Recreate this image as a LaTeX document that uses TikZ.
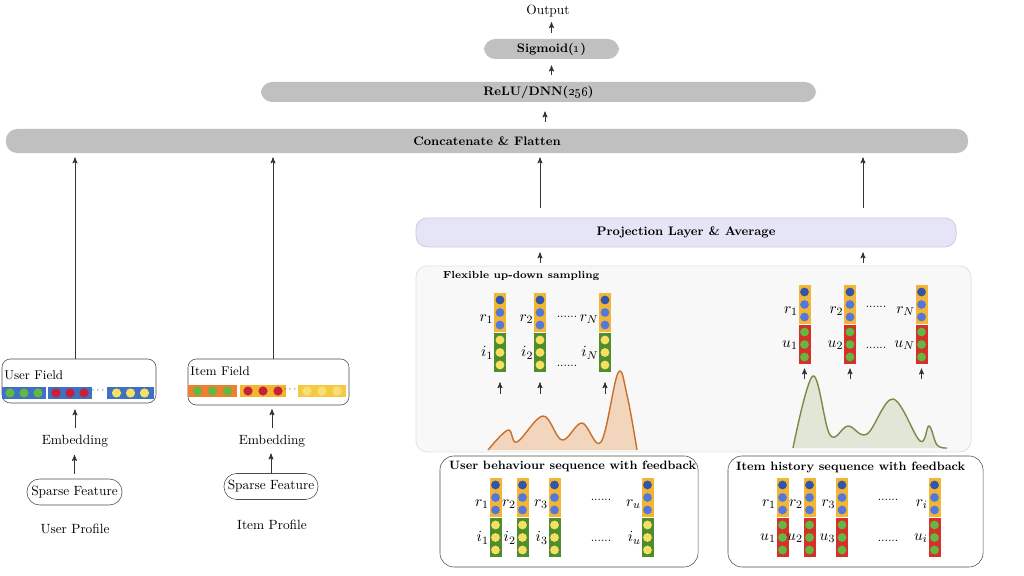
\documentclass[tikz,border=0pt]{standalone}
\usepackage{amsmath}
\usepackage{tikz}
\usetikzlibrary{shapes,arrows,positioning}

\definecolor{boxgray}{HTML}{C0C0C0}
\definecolor{projfill}{HTML}{E6E4F7}
\definecolor{projline}{HTML}{CFCBE6}
\definecolor{panelfill}{HTML}{F8F8F8}
\definecolor{panelline}{HTML}{E2E2E2}
\definecolor{barY}{HTML}{F2B634}
\definecolor{dotB}{HTML}{5478DA}
\definecolor{dotBd}{HTML}{3354A8}
\definecolor{barG}{HTML}{4E8C2C}
\definecolor{dotY}{HTML}{F5E064}
\definecolor{barR}{HTML}{D63028}
\definecolor{dotG}{HTML}{62B842}
\definecolor{barBlue}{HTML}{3F70C2}
\definecolor{dotR}{HTML}{C8203C}
\definecolor{barO}{HTML}{EE8030}
\definecolor{barO2}{HTML}{F3B52A}
\definecolor{barY2}{HTML}{F6C944}
\definecolor{dotY3}{HTML}{F8DE78}
\definecolor{curveOfill}{HTML}{F2D5BD}
\definecolor{curveOline}{HTML}{C8702A}
\definecolor{curveGfill}{HTML}{E2E6D6}
\definecolor{curveGline}{HTML}{7A8A48}

% one embedding column: name, x, top, lower bar, lower dots, top label, lower label
\newcommand{\vcol}[7]{%
  \node[lbl] (#1a) at ({#2-5},{#3+26}) {$#6$};
  \node[lbl] (#1b) at ({#2-5},{#3+60}) {$#7$};
  \node[vbar,fill=barY] (#1r) at (#2,{#3+19.5}) {};
  \node[vbar,fill=#4] (#1i) at (#2,{#3+59.5}) {};
  \fill[dotBd] (#2,{#3+7}) circle (0.11cm);
  \foreach \k in {1,2} \fill[dotB] (#2,{#3+7+12.5*\k}) circle (0.11cm);
  \foreach \k in {0,1,2} \fill[#5] (#2,{#3+47+12.5*\k}) circle (0.11cm);
}
% one field vector: name, x centre, y centre, width, bar, dots, spacing
\newcommand{\hvec}[7]{%
  \node[hbar,fill=#5,minimum width=#4] (#1) at (#2,#3) {};
  \foreach \k in {-1,0,1} \fill[#6] ({#2+#7*\k},#3) circle (0.115cm);
}

\begin{document}
\begin{tikzpicture}[x=0.025cm,y=-0.025cm,>=stealth',semithick,font=\fontsize{9.5}{11}\selectfont]
\tikzstyle{layer}=[fill=boxgray,rounded corners=8pt,inner sep=0pt,font=\fontsize{8.8}{10}\selectfont\bfseries]
\tikzstyle{field}=[draw=black!70,thin,rounded corners=6pt,inner sep=0pt,fill=white]
\tikzstyle{sparse}=[draw=black!70,thin,rounded corners=9pt,inner sep=0pt,minimum height=0.65cm]
\tikzstyle{seqbox}=[draw=black!70,thin,rounded corners=10pt,inner sep=0pt,minimum height=2.775cm]
\tikzstyle{vbar}=[rectangle,inner sep=0pt,minimum width=0.3cm,minimum height=0.975cm]
\tikzstyle{hbar}=[rectangle,inner sep=0pt,minimum height=0.32cm]
\tikzstyle{lbl}=[anchor=east,inner sep=1pt,font=\fontsize{11}{12}\selectfont]
\tikzstyle{ttl}=[anchor=west,font=\fontsize{8.6}{10}\selectfont\bfseries]
\tikzstyle{dots}=[font=\fontsize{8.5}{8}\selectfont,inner sep=0pt]
\tikzstyle{arr}=[->,draw=black!80,line width=0.6pt]

\useasboundingbox (0,0) rectangle (1024,576);

% top layers
\node (out) at (548,11) {Output};
\node[layer,minimum width=3.375cm,minimum height=0.5cm] (sig) at (551.5,49) {Sigmoid(\oldstylenums{1})};
\node[layer,minimum width=13.875cm,minimum height=0.5cm] (relu) at (538.5,92) {ReLU/DNN(\oldstylenums{256})};
\node[layer,minimum width=24.05cm,minimum height=0.6cm] (concat) at (487,141) {Concatenate \& Flatten};
\node[layer,fill=projfill,draw=projline,minimum width=13.5cm,minimum height=0.725cm] (proj) at (686,232.5) {Projection Layer \& Average};

\coordinate (cx) at (545,0);
\coordinate (pl) at (540,0);
\coordinate (pr) at (863,0);
\coordinate (ux) at (75,0);
\coordinate (ix) at (273,0);

\draw[arr,shorten <=4.3pt] (sig.north) -- (sig.north |- out.south);
\draw[arr,shorten <=5pt,shorten >=4.3pt] (relu.north -| sig.south) -- (sig.south);
\draw[arr,shorten <=5pt,shorten >=6.4pt] (concat.north -| cx) -- (relu.south -| cx);

% user profile
\node[field,minimum width=3.85cm,minimum height=1.1cm] (uf) at (79,381) {};
\node[anchor=west,inner sep=1pt,font=\fontsize{9}{10}\selectfont] (uft) at (2.5,375) {User Field};
\hvec{uv1}{24}{393}{1.1cm}{barBlue}{dotG}{14}
\hvec{uv2}{70}{393}{1.1cm}{barBlue}{dotR}{14}
\hvec{uv3}{130.5}{393}{1.175cm}{barBlue}{dotY}{14}
\node[inner sep=0pt,font=\fontsize{6}{6}\selectfont] (ufd) at (99,390) {$\cdots$};
\node (uemb) at (75,441) {Embedding};
\node[sparse,minimum width=2.375cm] (us) at (74.5,492) {Sparse Feature};
\node (uprof) at (75,529) {User Profile};

\draw[arr,shorten <=3.5pt,shorten >=2pt] (us.north) -- (us.north |- uemb.south);
\draw[arr,shorten <=1.4pt,shorten >=4.3pt] (uemb.north) -- (uemb.north |- uf.south);
\draw[arr,shorten >=2.8pt] (uf.north -| ux) -- (concat.south -| ux);

% item profile
\node[field,minimum width=4.025cm,minimum height=1.15cm] (if) at (268.5,382) {};
\node[anchor=west,inner sep=1pt,font=\fontsize{9}{10}\selectfont] (ift) at (188.5,371) {Item Field};
\hvec{iv1}{212.5}{391}{1.225cm}{barO}{dotG}{15}
\hvec{iv2}{263}{391}{1.15cm}{barO2}{dotR}{15}
\hvec{iv3}{322}{391}{1.2cm}{barY2}{dotY3}{15}
\node[inner sep=0pt,font=\fontsize{6}{6}\selectfont] (ifd) at (291,389) {$\cdots$};
\node (iemb) at (272,441) {Embedding};
\node[sparse,minimum width=2.35cm] (is) at (271,486.5) {Sparse Feature};
\node (iprof) at (272,525) {Item Profile};

\draw[arr,shorten <=0pt,shorten >=1pt] (is.north) -- (is.north |- iemb.south);
\draw[arr,shorten <=1pt,shorten >=2.8pt] (iemb.north) -- (iemb.north |- if.south);
\draw[arr,shorten >=2.8pt] (if.north -| ix) -- (concat.south -| ix);

% sampling panel
\node[draw=panelline,fill=panelfill,rounded corners=8pt,minimum width=13.875cm,minimum height=4.65cm] (samp) at (693.5,359) {};
\node[ttl,font=\fontsize{7.3}{9}\selectfont\bfseries] (sampt) at (438,276) {Flexible up-down sampling};

\fill[curveOfill] plot[smooth,tension=0.6] coordinates {(488,450) (508,430) (517,442) (543,416) (562,440) (582,423) (601,442) (618,373) (627,395) (637,450)};
\draw[curveOline,line width=1pt] plot[smooth,tension=0.6] coordinates {(488,450) (508,430) (517,442) (543,416) (562,440) (582,423) (601,442) (618,373) (627,395) (637,450)};
\fill[curveGfill] plot[smooth,tension=0.6] coordinates {(793,448) (813,376) (830,435) (848,426) (867,434) (893,399) (920,441) (929,426) (937,445) (947,448)};
\draw[curveGline,line width=1pt] plot[smooth,tension=0.6] coordinates {(793,448) (813,376) (830,435) (848,426) (867,434) (893,399) (920,441) (929,426) (937,445) (947,448)};

\vcol{sA}{500}{293}{barG}{dotY}{r_1}{i_1}
\vcol{sB}{540}{293}{barG}{dotY}{r_2}{i_2}
\vcol{sC}{605}{293}{barG}{dotY}{r_N}{i_N}
\node[dots] (d1) at (567,317) {......};
\node[dots] (d2) at (567,366) {......};
\foreach \c in {sA,sB,sC}
  \draw[arr] ([yshift=-15pt]\c i.south) -- ([yshift=-7pt]\c i.south);

\vcol{tA}{804.5}{285}{barR}{dotG}{r_1}{u_1}
\vcol{tB}{850}{285}{barR}{dotG}{r_2}{u_2}
\vcol{tC}{921.5}{285}{barR}{dotG}{r_N}{u_N}
\node[dots] (d3) at (876,307) {......};
\node[dots] (d4) at (876,348) {......};
\foreach \c in {tA,tB,tC}
  \draw[arr] ([yshift=-10.7pt]\c i.south) -- ([yshift=-2.8pt]\c i.south);

\draw[arr,shorten <=2pt,shorten >=3.5pt] (samp.north -| pl) -- (proj.south -| pl);
\draw[arr,shorten <=2pt,shorten >=3.5pt] (samp.north -| pr) -- (proj.south -| pr);
\draw[arr,shorten <=7pt,shorten >=2.8pt] (proj.north -| pl) -- (concat.south -| pl);
\draw[arr,shorten <=7pt,shorten >=2.8pt] (proj.north -| pr) -- (concat.south -| pr);

% feedback sequences
\node[seqbox,minimum width=6.45cm] (useq) at (569,511.5) {};
\node[ttl] (useqt) at (444,466) {User behaviour sequence with feedback};
\vcol{bA}{495.5}{478}{barG}{dotY}{r_1}{i_1}
\vcol{bB}{522.5}{478}{barG}{dotY}{r_2}{i_2}
\vcol{bC}{554.5}{478}{barG}{dotY}{r_3}{i_3}
\vcol{bD}{647.5}{478}{barG}{dotY}{r_u}{i_u}
\node[dots] (d5) at (601,500) {......};
\node[dots] (d6) at (601,541) {......};

\node[seqbox,minimum width=6.375cm] (iseq) at (855.5,511.5) {};
\node[ttl] (iseqt) at (731,467) {Item history sequence with feedback};
\vcol{hA}{782.5}{478}{barR}{dotG}{r_1}{u_1}
\vcol{hB}{809.5}{478}{barR}{dotG}{r_2}{u_2}
\vcol{hC}{842}{478}{barR}{dotG}{r_3}{u_3}
\vcol{hD}{934.5}{478}{barR}{dotG}{r_i}{u_i}
\node[dots] (d7) at (888,500) {......};
\node[dots] (d8) at (888,541) {......};
\end{tikzpicture}
\end{document}
